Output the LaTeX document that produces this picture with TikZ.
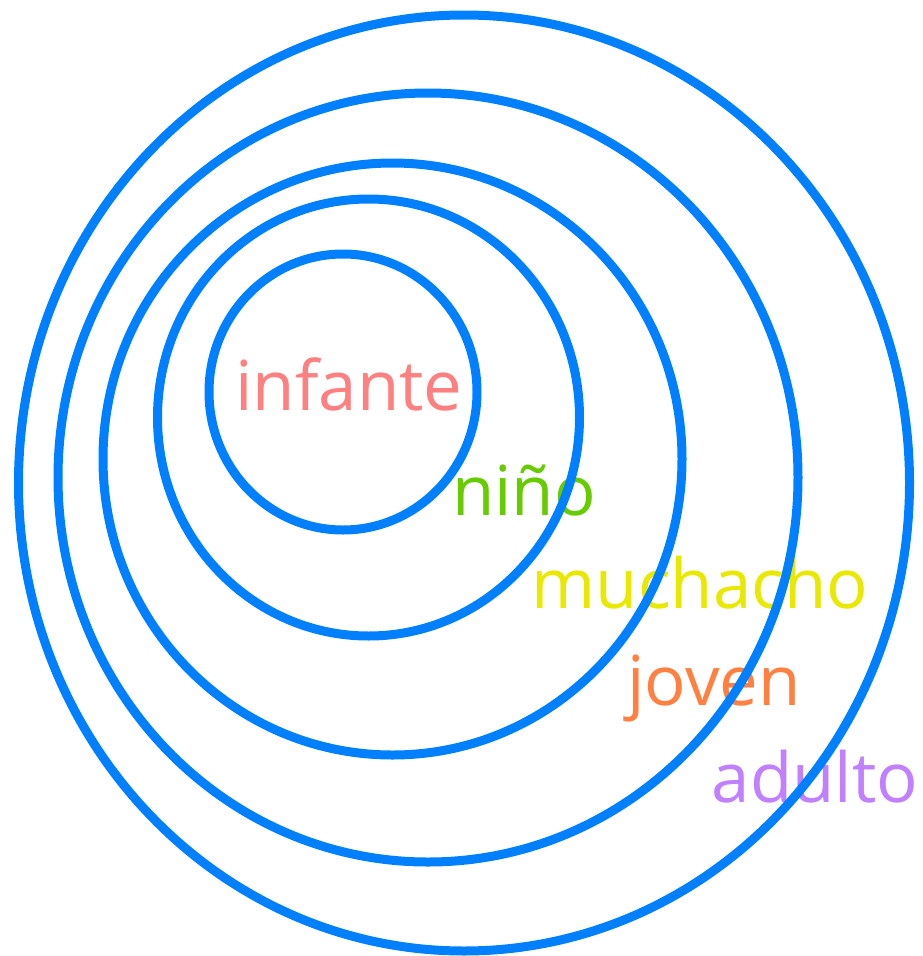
\documentclass[tikz,border=0pt]{standalone}
\usepackage{fontspec}
\setmainfont{Open Sans}
\usepackage{xcolor}
\usetikzlibrary{positioning}
\definecolor{ringblue}{HTML}{0080FF}
\definecolor{infantec}{HTML}{FF8080}
\definecolor{ninoc}{HTML}{66CC00}
\definecolor{muchachoc}{HTML}{E8E800}
\definecolor{jovenc}{HTML}{FF8040}
\definecolor{adultoc}{HTML}{C080FF}
\tikzset{ring/.style={draw=ringblue, line width=9pt}, lab/.style={anchor=base, inner sep=0pt, font=\fontsize{69}{69}\selectfont}}

\begin{document}
\begin{tikzpicture}[x=1pt,y=-1pt]
\useasboundingbox (0,0) rectangle (922,956);
% labels first, the rings run over them
\node[lab,text=infantec] (infante) at (349,410) {infante};
\node[lab,text=ninoc] (nino) at (524,515) {niño};
\node[lab,text=muchachoc] (muchacho) at (700,608) {muchacho};
\node[lab,text=jovenc] (joven) at (714,705) {joven};
\node[lab,text=adultoc] (adulto) at (815,802) {adulto};
% rings
\draw[ring] (343,392) ellipse [x radius=134, y radius=138];
\draw[ring] (368.5,417.5) ellipse [x radius=211, y radius=218.5];
\draw[ring] (392.5,459) ellipse [x radius=289.5, y radius=296];
\draw[ring] (428,477.5) ellipse [x radius=370, y radius=384.5];
\draw[ring] (464,483) ellipse [x radius=445.5, y radius=468];
\end{tikzpicture}
\end{document}
